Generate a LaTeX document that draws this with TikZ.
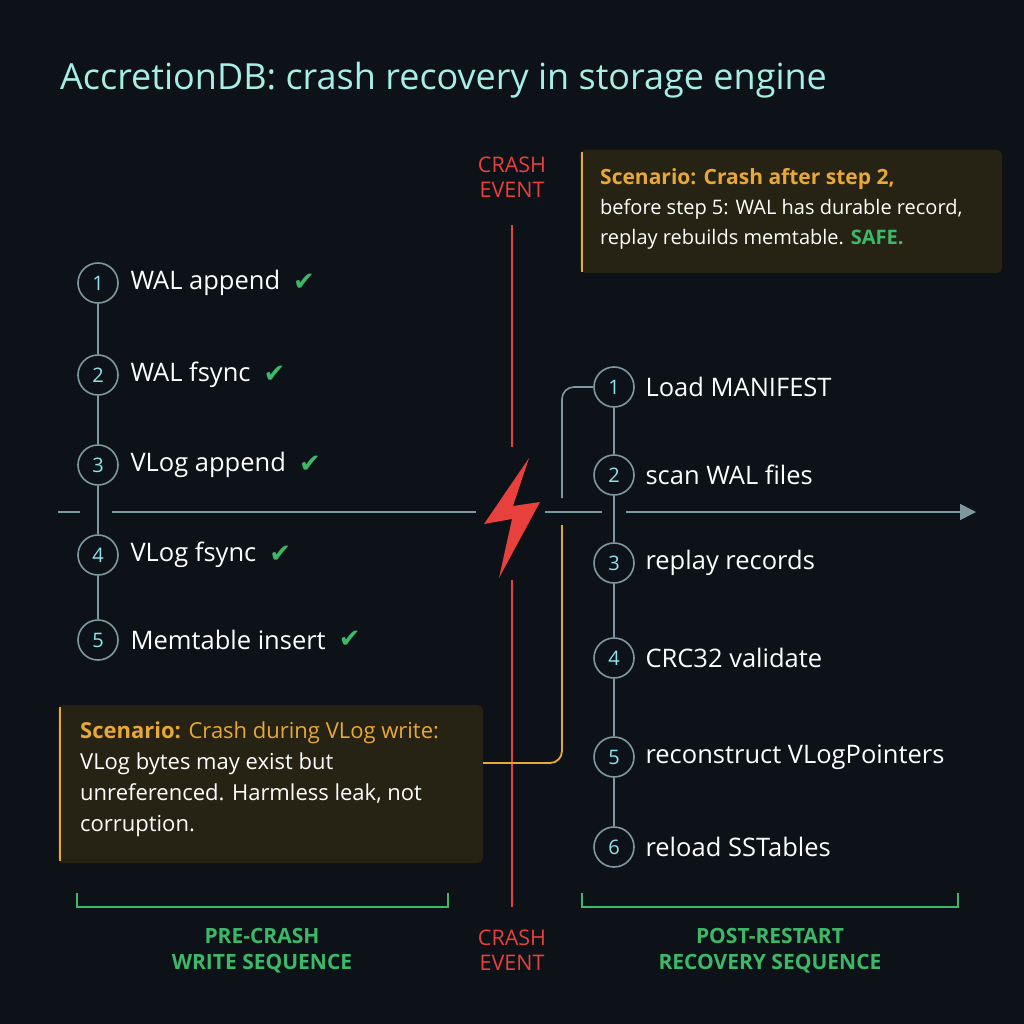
\documentclass[tikz,border=0pt]{standalone}
\usepackage{fontspec}
\setmainfont{Open Sans}
\newfontfamily\symf{DejaVu Sans}
\usetikzlibrary{arrows.meta}
\definecolor{bg}{HTML}{0D1218}
\definecolor{ttl}{HTML}{A6EEE6}
\definecolor{gl}{HTML}{7E98A0}
\definecolor{cy}{HTML}{8EE4EE}
\definecolor{rd}{HTML}{E8403C}
\definecolor{gr}{HTML}{3CB868}
\definecolor{org}{HTML}{E8A838}
\definecolor{boxf}{HTML}{262314}
\begin{document}
\begin{tikzpicture}[x=1pt,y=-1pt,
 stp/.style={circle,draw=gl,line width=1.6pt,minimum size=40pt,inner sep=0pt,text=cy,font=\fontsize{20}{20}\selectfont},
 lab/.style={anchor=west,text=white,font=\fontsize{25.5}{28}\selectfont},
 chk/.style={anchor=west,text=gr,font=\symf\fontsize{26}{26}\selectfont},
 gline/.style={gl,line width=1.6pt},
 glab/.style={text=gr,font=\fontsize{21}{26}\selectfont\bfseries,align=center},
 clab/.style={text=rd,font=\fontsize{21.5}{25}\selectfont,align=center}]
\fill[bg] (0,0) rectangle (1024,1024);
\useasboundingbox (0,0) rectangle (1024,1024);
\node[anchor=west,text=ttl,font=\fontsize{36}{40}\selectfont,inner sep=0pt] (title) at (60,80) {AccretionDB: crash recovery in storage engine};
% timeline
\coordinate (t0) at (58,512); \coordinate (t1) at (80,512); \coordinate (t2) at (112,512);
\coordinate (t3) at (476,512); \coordinate (t4) at (545,512); \coordinate (t5) at (602,512);
\coordinate (t6) at (626,512); \coordinate (t7) at (976,512);
\draw[gline] (t0)--(t1); \draw[gline] (t2)--(t3); \draw[gline] (t4)--(t5);
\draw[gline,-{Triangle[length=16pt,width=16pt]}] (t6)--(t7);
% crash line
\coordinate (r0) at (512,225); \coordinate (r1) at (512,447); \coordinate (r2) at (512,580); \coordinate (r3) at (512,907);
\draw[rd,line width=1.8pt] (r0)--(r1); \draw[rd,line width=1.8pt] (r2)--(r3);
\fill[rd] (529,458)--(484,524)--(512,519)--(499,578)--(540,502)--(513,506)--cycle;
\node[clab] (ce1) at (512,177) {CRASH\\EVENT};
\node[clab] (ce2) at (512,950) {CRASH\\EVENT};
% left steps
\foreach \i/\y/\t in {1/283/WAL append,2/375/WAL fsync,3/465/VLog append,4/555/VLog fsync,5/640/Memtable insert}{
 \node[stp] (a\i) at (98,\y) {\i};
 \node[lab] (al\i) at (127,\y) {\t};
 \node[chk] (ac\i) at ([xshift=6pt,yshift=1pt]al\i.east) {\char"2714};
}
\foreach \i/\j in {1/2,2/3,3/4,4/5}{\draw[gline] (a\i)--(a\j);}
% right steps
\foreach \i/\y/\t in {1/387/Load MANIFEST,2/475/scan WAL files,3/563/replay records,4/658/CRC32 validate,5/757/reconstruct VLogPointers,6/847/reload SSTables}{
 \node[stp] (b\i) at (614,\y) {\i};
 \node[lab] (bl\i) at (642,\y) {\t};
}
\foreach \i/\j in {1/2,2/3,3/4,4/5,5/6}{\draw[gline] (b\i)--(b\j);}
\coordinate (g1) at (562,498);
\draw[gline,rounded corners=12pt] (b1.west)--(562,387)--(g1);
% boxes
\fill[boxf,rounded corners=5pt] (580,150) rectangle (1002,273);
\draw[org,line width=2.2pt] (582,152)--(582,272);
\node[anchor=north west,align=left,text=white,font=\fontsize{20}{30}\selectfont,inner sep=0pt] (sc1) at (600,168)
 {\textcolor{org}{\bfseries\fontsize{21}{30}\selectfont Scenario: Crash after step 2,}\\before step 5: WAL has durable record,\\replay rebuilds memtable. \textcolor{gr}{\bfseries SAFE.}};
\fill[boxf,rounded corners=6pt] (58,705) rectangle (483,863);
\draw[org,line width=2.2pt] (60,707)--(60,861);
\node[anchor=north west,align=left,text=white,font=\fontsize{22}{31}\selectfont,inner sep=0pt] (sc2) at (80,722)
 {\textcolor{org}{\bfseries Scenario:} \textcolor{org}{Crash during VLog write:}\\VLog bytes may exist but\\unreferenced. Harmless leak, not\\corruption.};
\coordinate (o1) at (562,525);
\draw[org,line width=1.8pt,rounded corners=12pt] (483,763)--(562,763)--(o1);
% brackets
\draw[gr,line width=1.6pt] (77,893)--(77,907)--(448,907)--(448,893);
\draw[gr,line width=1.6pt] (582,893)--(582,907)--(958,907)--(958,893);
\node[glab] (pl) at (262,951) {PRE-CRASH\\WRITE SEQUENCE};
\node[glab] (pr) at (770,951) {POST-RESTART\\RECOVERY SEQUENCE};
\end{tikzpicture}
\end{document}
